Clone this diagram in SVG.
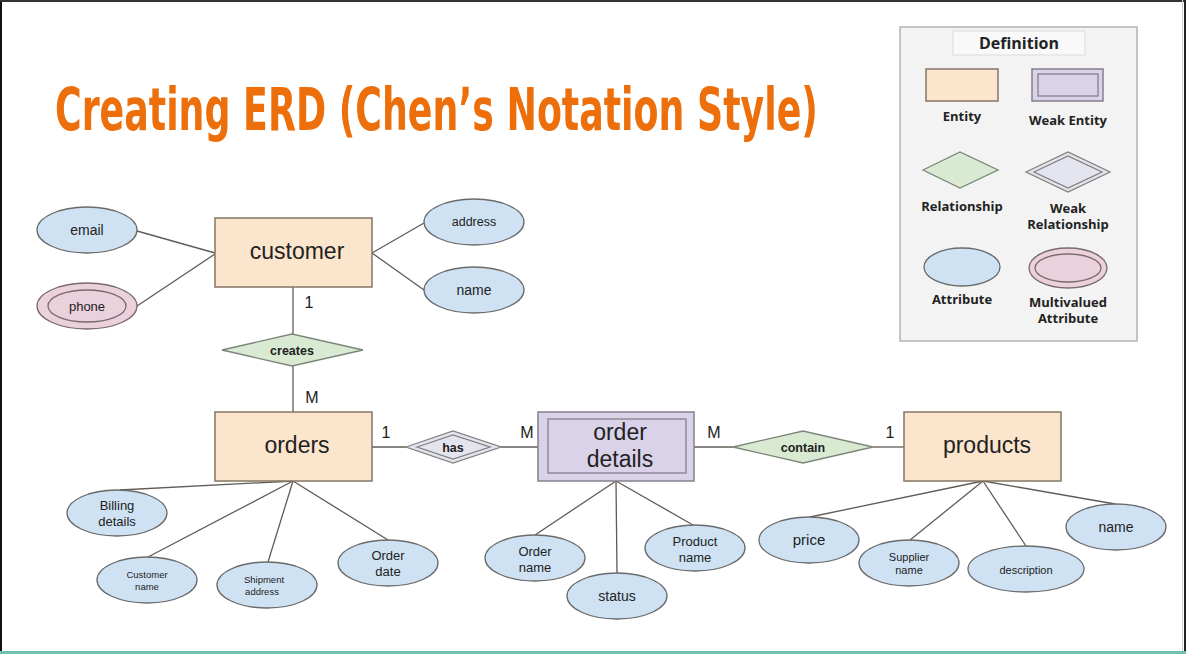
<svg xmlns="http://www.w3.org/2000/svg" width="1186" height="654" viewBox="0 0 1186 654">
<style>
.ent{fill:#fce5cd;stroke:#857566;stroke-width:1.5}
.wk{fill:#d9d2e9;stroke:#857f8c;stroke-width:1.5}
.rel{fill:#d9ead3;stroke:#7d857a;stroke-width:1.3}
.wrel{fill:#e4e4ee;stroke:#808080;stroke-width:1.3}
.att{fill:#cfe2f3;stroke:#6a6a6a;stroke-width:1.3}
.mv{fill:#ead1dc;stroke:#7a6a70;stroke-width:1.3}
.ln{stroke:#615b56;stroke-width:1.3;fill:none}
.t{font-family:"Liberation Sans",Arial,sans-serif;fill:#222;text-anchor:middle}
.big{font-size:23px}
.card{font-family:"Liberation Sans",Arial,sans-serif;fill:#222;font-size:16px;text-anchor:middle}
.lg{font-family:"Open Sans","Noto Sans",sans-serif;font-weight:bold;font-size:13px;fill:#222;text-anchor:middle}
.lgh{font-family:"Open Sans","Noto Sans",sans-serif;font-weight:bold;font-size:16px;fill:#222;text-anchor:middle}
</style>
<rect x="0" y="0" width="1186" height="654" fill="#ffffff"/>
<rect x="0" y="0" width="2" height="654" fill="#111"/>
<rect x="0" y="0" width="1186" height="2" fill="#333"/>
<rect x="1184" y="0" width="2" height="654" fill="#222"/>
<rect x="1182" y="0" width="1" height="654" fill="#ccc"/>
<rect x="0" y="651" width="1186" height="3" fill="#6fbfb3"/>

<text transform="translate(55,130) scale(0.68,1)" x="0" y="0" font-family="'DejaVu Sans Condensed','DejaVu Sans',sans-serif" font-weight="bold" font-size="59" fill="#ec6f0b" textLength="1122" lengthAdjust="spacingAndGlyphs">Creating ERD (Chen’s Notation Style)</text>

<g id="legend">
<rect x="900" y="27" width="237" height="314" fill="#f3f3f3" stroke="#a8a8a8" stroke-width="1.3"/>
<rect x="953" y="31" width="132" height="24" fill="#f9f9f9" stroke="#dcdcdc"/>
<text x="1019" y="49" class="lgh">Definition</text>
<rect x="926" y="69" width="72" height="32" class="ent"/>
<text x="962" y="121" class="lg">Entity</text>
<rect x="1032" y="69" width="71" height="32" class="wk"/>
<rect x="1038" y="74" width="60" height="22" fill="none" stroke="#857f8c" stroke-width="1.3"/>
<text x="1068" y="125" class="lg">Weak Entity</text>
<polygon points="923,170 960,152 998,170 960,188" class="rel"/>
<text x="962" y="211" class="lg">Relationship</text>
<polygon points="1026,172 1068,152 1110,172 1068,192" class="wrel"/>
<polygon points="1034,172 1068,156 1102,172 1068,188" fill="none" stroke="#808080" stroke-width="1.3"/>
<text x="1068" y="213" class="lg">Weak</text>
<text x="1068" y="229" class="lg">Relationship</text>
<ellipse cx="962" cy="267" rx="38" ry="19" class="att"/>
<text x="962" y="304" class="lg">Attribute</text>
<ellipse cx="1068" cy="268" rx="39" ry="20" class="mv"/>
<ellipse cx="1068" cy="268" rx="33" ry="14" fill="none" stroke="#7a6a70" stroke-width="1.3"/>
<text x="1068" y="307" class="lg">Multivalued</text>
<text x="1068" y="323" class="lg">Attribute</text>
</g>

<g id="connectors">
<line x1="137" y1="231" x2="215" y2="253" class="ln"/>
<line x1="137" y1="306" x2="215" y2="254" class="ln"/>
<line x1="424" y1="223" x2="372" y2="253" class="ln"/>
<line x1="424" y1="290" x2="372" y2="253" class="ln"/>
<line x1="293" y1="287" x2="293" y2="334" class="ln"/>
<line x1="293" y1="366" x2="293" y2="412" class="ln"/>
<line x1="372" y1="447" x2="406" y2="447" class="ln"/>
<line x1="501" y1="447" x2="538" y2="447" class="ln"/>
<line x1="694" y1="447" x2="733" y2="447" class="ln"/>
<line x1="873" y1="447" x2="904" y2="447" class="ln"/>
<line x1="293" y1="481" x2="120" y2="490" class="ln"/>
<line x1="293" y1="481" x2="148" y2="557" class="ln"/>
<line x1="293" y1="481" x2="268" y2="562" class="ln"/>
<line x1="293" y1="481" x2="388" y2="540" class="ln"/>
<line x1="616" y1="481" x2="535" y2="535" class="ln"/>
<line x1="616" y1="481" x2="617" y2="573" class="ln"/>
<line x1="616" y1="481" x2="693" y2="525" class="ln"/>
<line x1="983" y1="481" x2="810" y2="517" class="ln"/>
<line x1="983" y1="481" x2="910" y2="540" class="ln"/>
<line x1="983" y1="481" x2="1026" y2="546" class="ln"/>
<line x1="983" y1="481" x2="1115" y2="504" class="ln"/>
<text x="309" y="308" class="card">1</text>
<text x="312" y="403" class="card">M</text>
<text x="386" y="438" class="card">1</text>
<text x="527" y="438" class="card">M</text>
<text x="714" y="438" class="card">M</text>
<text x="890" y="438" class="card">1</text>
</g>

<g id="customer">
<rect x="215" y="218" width="157" height="69" class="ent"/>
<text x="297" y="259" class="t big">customer</text>
</g>
<g id="email">
<ellipse cx="87" cy="230" rx="50" ry="23" class="att"/>
<text x="87" y="235" class="t" font-size="14">email</text>
</g>
<g id="phone">
<ellipse cx="87" cy="306" rx="50" ry="23" class="mv"/>
<ellipse cx="87" cy="306" rx="39" ry="16" fill="none" stroke="#7a6a70" stroke-width="1.3"/>
<text x="87" y="311" class="t" font-size="13">phone</text>
</g>
<g id="address">
<ellipse cx="474" cy="222" rx="50" ry="23" class="att"/>
<text x="474" y="226" class="t" font-size="12.5">address</text>
</g>
<g id="customer-name">
<ellipse cx="474" cy="290" rx="50" ry="23" class="att"/>
<text x="474" y="295" class="t" font-size="14">name</text>
</g>
<g id="creates">
<polygon points="222,350 292,334 363,350 292,366" class="rel"/>
<text x="292" y="355" class="t" font-size="12.5" font-weight="bold">creates</text>
</g>
<g id="orders">
<rect x="215" y="412" width="157" height="69" class="ent"/>
<text x="297" y="453" class="t big">orders</text>
</g>
<g id="has">
<polygon points="406,447 453,431 501,447 453,463" class="wrel"/>
<polygon points="417,447 453,435 490,447 453,459" fill="none" stroke="#808080" stroke-width="1.3"/>
<text x="453" y="452" class="t" font-size="12.5" font-weight="bold">has</text>
</g>
<g id="order-details">
<rect x="538" y="412" width="156" height="69" class="wk"/>
<rect x="548" y="419" width="138" height="54" fill="none" stroke="#857f8c" stroke-width="1.3"/>
<text x="620" y="440" class="t big">order</text>
<text x="620" y="467" class="t big">details</text>
</g>
<g id="contain">
<polygon points="733,447 803,431 873,447 803,463" class="rel"/>
<text x="803" y="452" class="t" font-size="12.5" font-weight="bold">contain</text>
</g>
<g id="products">
<rect x="904" y="412" width="157" height="69" class="ent"/>
<text x="987" y="453" class="t big">products</text>
</g>
<g id="billing-details">
<ellipse cx="117" cy="513" rx="50" ry="23" class="att"/>
<text x="117" y="510" class="t" font-size="13">Billing</text>
<text x="117" y="526" class="t" font-size="13">details</text>
</g>
<g id="customer-name-attr">
<ellipse cx="147" cy="580" rx="50" ry="23" class="att"/>
<text x="147" y="578" class="t" font-size="9.5">Customer</text>
<text x="147" y="590" class="t" font-size="9.5">name</text>
</g>
<g id="shipment-address">
<ellipse cx="267" cy="585" rx="50" ry="23" class="att"/>
<text x="264" y="583" class="t" font-size="9.5">Shipment</text>
<text x="262" y="595" class="t" font-size="9.5">address</text>
</g>
<g id="order-date">
<ellipse cx="388" cy="563" rx="50" ry="23" class="att"/>
<text x="388" y="560" class="t" font-size="13">Order</text>
<text x="388" y="576" class="t" font-size="13">date</text>
</g>
<g id="order-name">
<ellipse cx="535" cy="558" rx="50" ry="23" class="att"/>
<text x="535" y="556" class="t" font-size="13">Order</text>
<text x="535" y="572" class="t" font-size="13">name</text>
</g>
<g id="status">
<ellipse cx="617" cy="596" rx="50" ry="23" class="att"/>
<text x="617" y="601" class="t" font-size="14">status</text>
</g>
<g id="product-name">
<ellipse cx="695" cy="548" rx="50" ry="23" class="att"/>
<text x="695" y="546" class="t" font-size="13">Product</text>
<text x="695" y="562" class="t" font-size="13">name</text>
</g>
<g id="price">
<ellipse cx="809" cy="540" rx="50" ry="23" class="att"/>
<text x="809" y="545" class="t" font-size="15">price</text>
</g>
<g id="supplier-name">
<ellipse cx="909" cy="563" rx="50" ry="23" class="att"/>
<text x="909" y="561" class="t" font-size="11">Supplier</text>
<text x="909" y="574" class="t" font-size="11">name</text>
</g>
<g id="description">
<ellipse cx="1026" cy="569" rx="58" ry="23" class="att"/>
<text x="1026" y="574" class="t" font-size="11">description</text>
</g>
<g id="product-name-attr">
<ellipse cx="1116" cy="527" rx="50" ry="23" class="att"/>
<text x="1116" y="532" class="t" font-size="14">name</text>
</g>
</svg>
